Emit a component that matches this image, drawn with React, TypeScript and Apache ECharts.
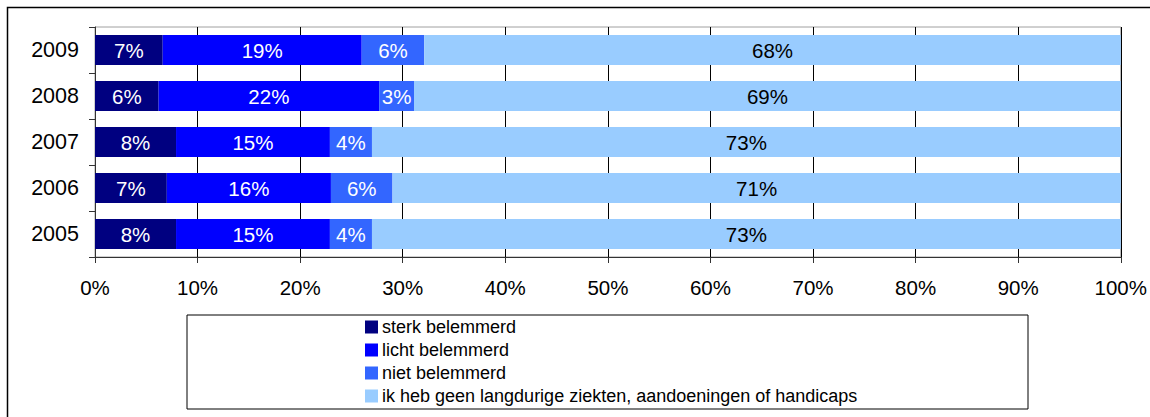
import React, { useEffect, useRef } from "react";
import * as echarts from "echarts";

const years = ["2005", "2006", "2007", "2008", "2009"];
const sterk = [7.9, 7.0, 7.9, 6.2, 6.6];
const licht = [15.0, 16.0, 15.0, 21.5, 19.4];
const niet = [4.1, 6.0, 4.1, 3.4, 6.1];
const geen = [73.0, 71.0, 73.0, 68.9, 67.9];
const seriesNames = [
  "sterk belemmerd",
  "licht belemmerd",
  "niet belemmerd",
  "ik heb geen langdurige ziekten, aandoeningen of handicaps",
];
const seriesValues = [sterk, licht, niet, geen];
const colors = ["#000080", "#0000FF", "#3366FF", "#99CCFF"];
const labelColors = ["#FFFFFF", "#FFFFFF", "#FFFFFF", "#000000"];
const xTicks = [0, 10, 20, 30, 40, 50, 60, 70, 80, 90, 100];

const FONT = "Liberation Sans, Arial, sans-serif";

export default function App() {
  const ref = useRef<HTMLDivElement>(null);
  useEffect(() => {
    if (!ref.current) return;
    const chart = echarts.init(ref.current, null, { renderer: "svg" });
    chart.setOption({
      animation: false,
      backgroundColor: "#ffffff",
      textStyle: { fontFamily: FONT },
      grid: {
        left: 95,
        right: 28,
        top: 27,
        bottom: 160,
        show: true,
        borderColor: "#A0A0A0",
        borderWidth: 1,
        backgroundColor: "transparent",
      },
      xAxis: {
        type: "value",
        min: xTicks[0],
        max: xTicks[xTicks.length - 1],
        interval: 10,
        axisLine: { show: true, lineStyle: { color: "#333333", width: 1 } },
        axisTick: { show: true, length: 6, lineStyle: { color: "#333333" } },
        axisLabel: {
          formatter: "{value}%",
          color: "#000000",
          fontSize: 20.5,
          fontFamily: FONT,
          margin: 20,
        },
        splitLine: { show: true, lineStyle: { color: "#000000", width: 1 } },
      },
      yAxis: {
        type: "category",
        data: years,
        axisLine: { show: true, lineStyle: { color: "#333333", width: 1 } },
        axisTick: { show: true, length: 6, lineStyle: { color: "#333333" } },
        axisLabel: {
          color: "#000000",
          fontSize: 21.5,
          fontFamily: FONT,
          margin: 16,
        },
      },
      legend: {
        orient: "vertical",
        left: 365,
        top: 317,
        height: 140,
        padding: 0,
        itemWidth: 13,
        itemHeight: 13,
        itemGap: 3,
        icon: "rect",
        textStyle: {
          color: "#000000",
          fontSize: 18,
          lineHeight: 20,
          fontFamily: FONT,
          padding: [0, 0, 0, -1],
        },
        data: seriesNames,
      },
      graphic: [
        {
          type: "rect",
          shape: { x: 7.5, y: 7.5, width: 1200, height: 500 },
          style: { fill: "none", stroke: "#000000", lineWidth: 1.5 },
          silent: true,
        },
        {
          type: "rect",
          shape: { x: 187, y: 315, width: 841, height: 94 },
          style: { fill: "none", stroke: "#000000", lineWidth: 1 },
          silent: true,
        },
      ],
      series: seriesValues.map((vals, i) => ({
        name: seriesNames[i],
        type: "bar",
        stack: "total",
        barWidth: 30,
        data: vals,
        itemStyle: { color: colors[i] },
        label: {
          show: true,
          position: "inside",
          color: labelColors[i],
          fontSize: 20.5,
          fontFamily: FONT,
          formatter: (p: any) => Math.round(p.value) + "%",
        },
      })),
    });
    return () => chart.dispose();
  }, []);
  return (
    <div
      ref={ref}
      style={{ position: "fixed", left: 0, top: 0, width: 1150, height: 417 }}
    />
  );
}
